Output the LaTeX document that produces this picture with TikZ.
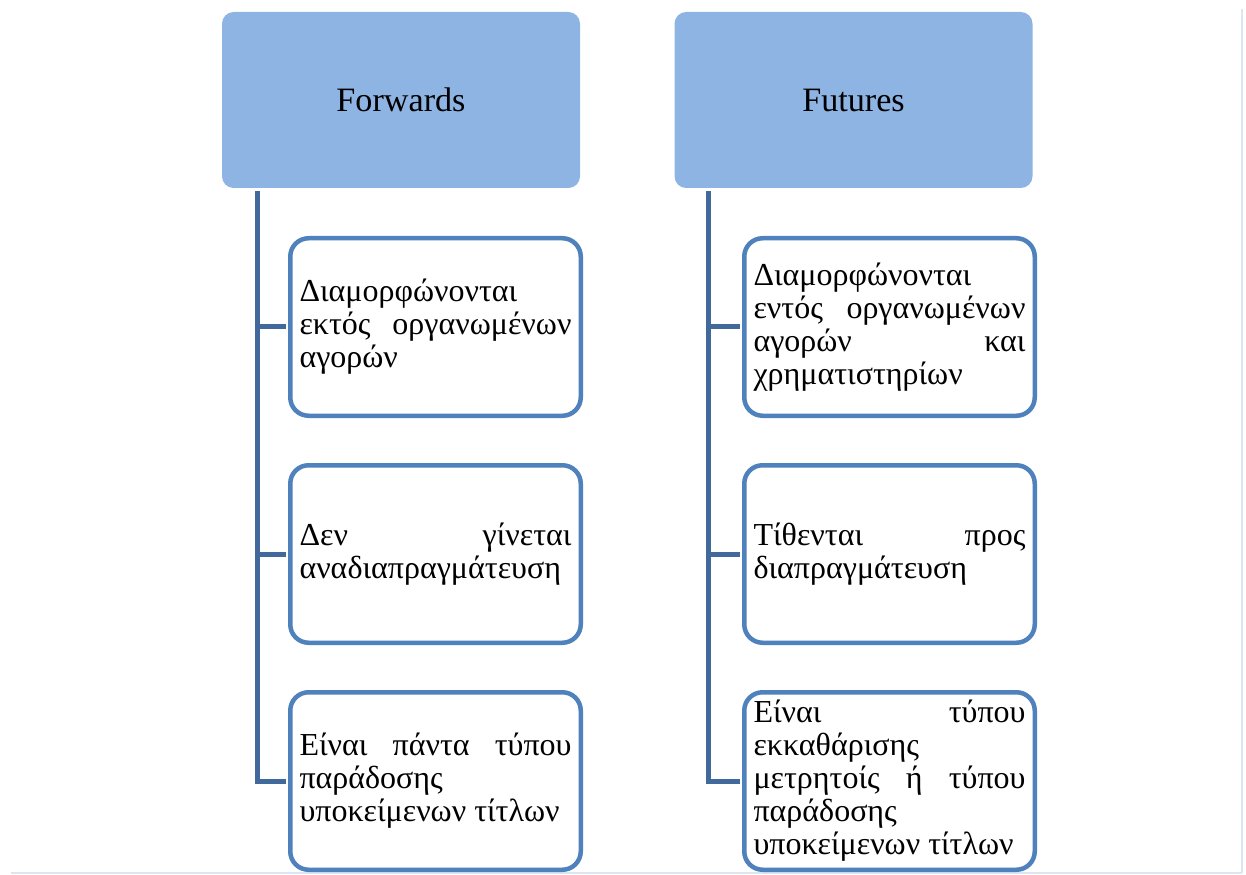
\documentclass[tikz,border=0pt]{standalone}
\usepackage{fontspec}
\setmainfont{Liberation Serif}
\definecolor{headfill}{HTML}{8EB4E3}
\definecolor{boxline}{HTML}{4F81BD}
\definecolor{trunk}{HTML}{41699B}
\definecolor{rimcol}{HTML}{DCE6F2}
\begin{document}
\begin{tikzpicture}[x=0.6pt, y=-0.6pt,
  head/.style={rectangle, rounded corners=7pt, fill=headfill, minimum width=214.8pt, minimum height=105.6pt, font=\fontsize{20.5pt}{24pt}\selectfont},
  item/.style={rectangle, rounded corners=11pt, draw=boxline, line width=2.7pt, fill=white, minimum width=174.3pt, minimum height=106.5pt, text width=163.2pt, align=justify, inner sep=0pt, font=\fontsize{19.2pt}{19.8pt}\selectfont},
  link/.style={draw=trunk, line width=3pt, shorten >=1.3pt},
  rim/.style={draw=rimcol, line width=1.2pt}]
  \useasboundingbox (0,0) rectangle (1246,875);

  % page edge
  \draw[rim] (11,873) -- (1242,873);
  \draw[rim] (1242,9) -- (1242,873);

  % header nodes
  \node[head] (fwd) at (401,100) {Forwards};
  \node[head] (fut) at (853.5,100) {Futures};

  % forwards items
  \node[item] (fwd1) at (435.5,327) {Διαμορφώνονται\\ εκτός\hfill οργανωμένων\\ αγορών};
  \node[item] (fwd2) at (435.5,554) {Δεν\hfill γίνεται\\ αναδιαπραγμάτευση};
  \node[item] (fwd3) at (435.5,781) {Είναι\hfill πάντα\hfill τύπου\\ παράδοσης\\ υποκείμενων τίτλων};

  % futures items
  \node[item] (fut1) at (889.5,327) {Διαμορφώνονται\\ εντός\hfill οργανωμένων\\ αγορών\hfill και\\ χρηματιστηρίων};
  \node[item] (fut2) at (889.5,554) {Τίθενται\hfill προς\\ διαπραγμάτευση};
  \node[item] (fut3) at (889.5,781) {Είναι\hfill τύπου\\ εκκαθάρισης\\ μετρητοίς\hfill ή\hfill τύπου\\ παράδοσης\\ υποκείμενων τίτλων};

  % trunk lines from the headers
  \coordinate (fwdroot) at (257,191);
  \coordinate (futroot) at (708,191);

  \draw[link] (fwdroot) |- (fwd3.west);
  \draw[link] (fwdroot |- fwd1.west) -- (fwd1.west);
  \draw[link] (fwdroot |- fwd2.west) -- (fwd2.west);

  \draw[link] (futroot) |- (fut3.west);
  \draw[link] (futroot |- fut1.west) -- (fut1.west);
  \draw[link] (futroot |- fut2.west) -- (fut2.west);
\end{tikzpicture}
\end{document}
